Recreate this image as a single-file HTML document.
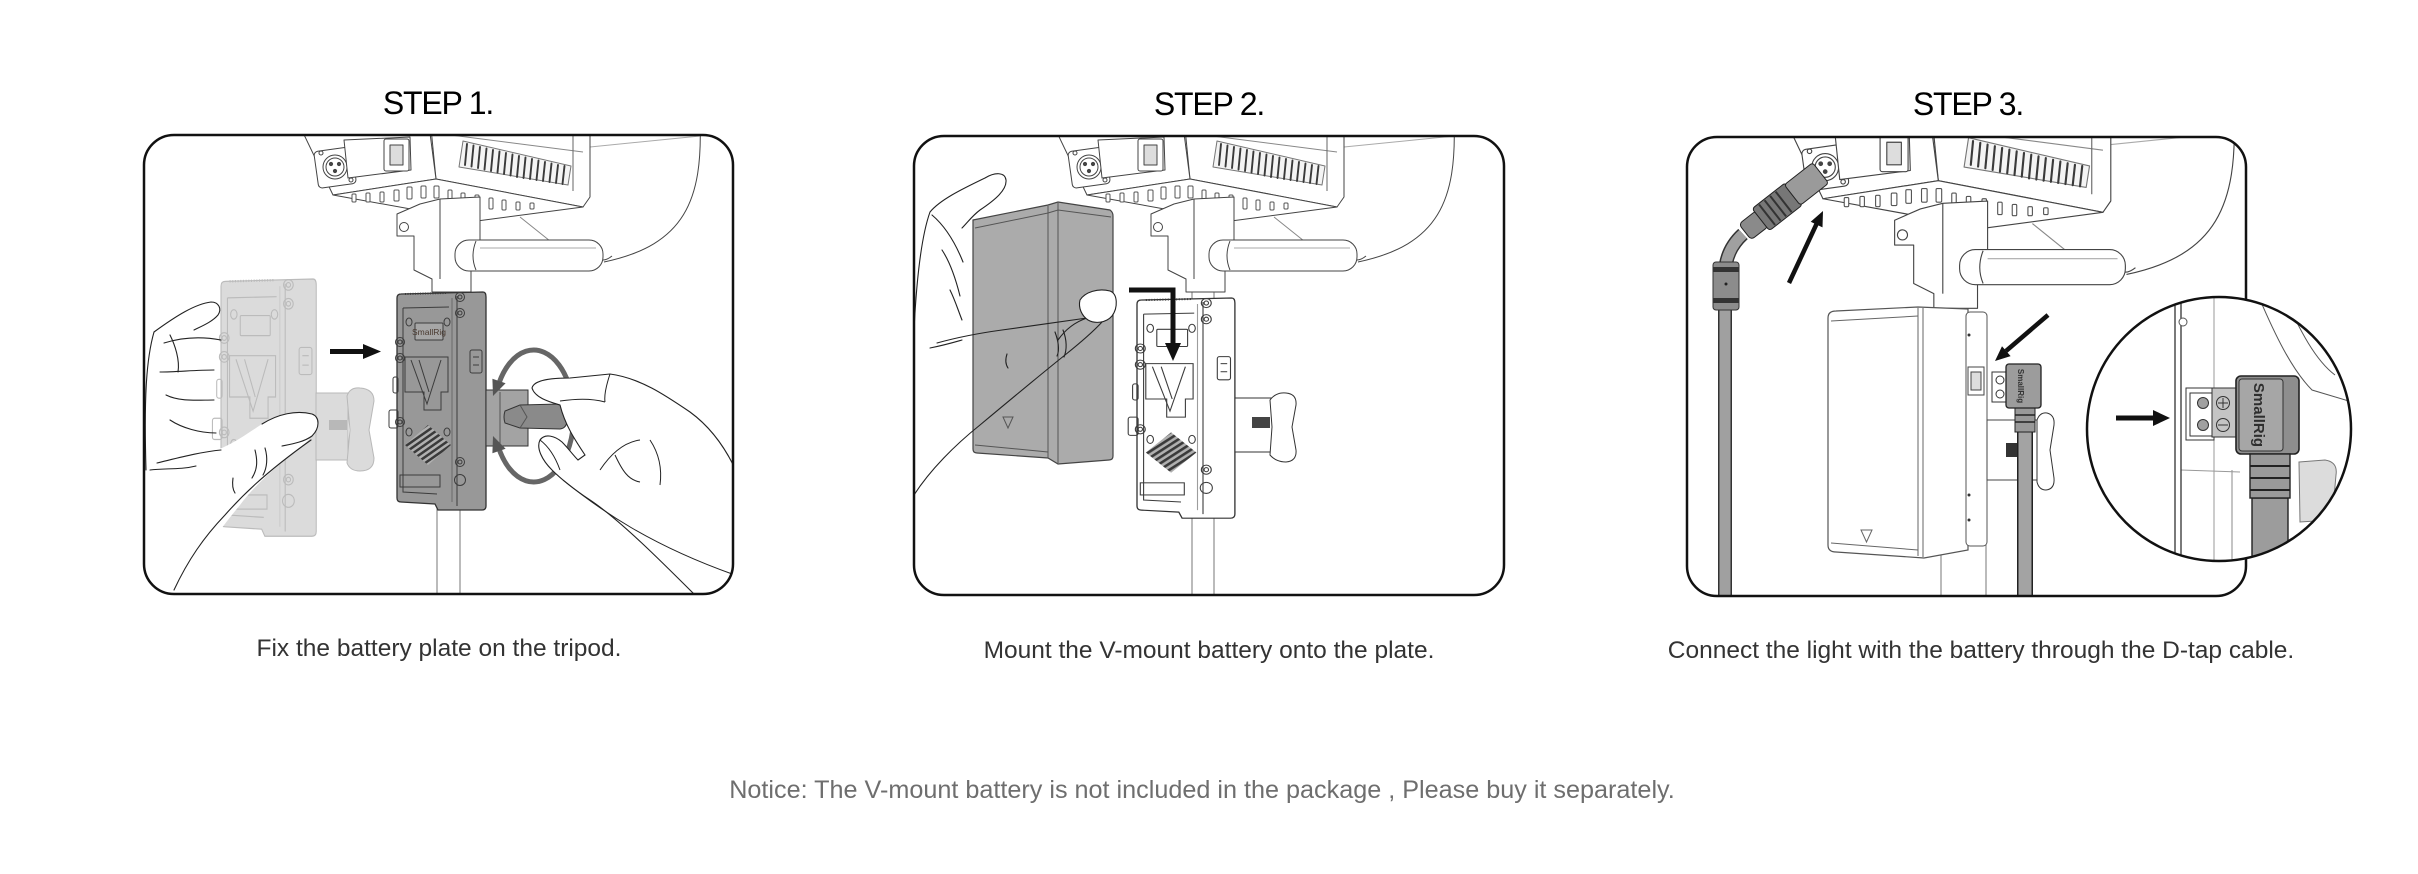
<!DOCTYPE html>
<html><head><meta charset="utf-8"><title>Steps</title>
<style>
html,body{margin:0;padding:0;background:#fff;}
body{width:2418px;height:874px;overflow:hidden;}
svg{display:block;}
text{font-family:"Liberation Sans",Arial,sans-serif;}
</style></head><body>
<svg width="2418" height="874" viewBox="0 0 2418 874" xmlns="http://www.w3.org/2000/svg">
<defs>
<clipPath id="c1"><rect x="144" y="135" width="589" height="459" rx="30"/></clipPath>
<clipPath id="c2"><rect x="914" y="136" width="590" height="459" rx="30"/></clipPath>
<clipPath id="c3"><rect x="1687" y="137" width="559" height="459" rx="30"/></clipPath>
<clipPath id="cc"><circle cx="2219" cy="429" r="131"/></clipPath>
<pattern id="hatch" width="5" height="5" patternUnits="userSpaceOnUse" patternTransform="rotate(-35)"><rect width="5" height="5" fill="#b0b0b0"/><rect width="5" height="2.5" fill="#3a3a3a"/></pattern>

<g id="rig" stroke="#444" stroke-width="1" fill="#fff" stroke-linejoin="round">
  <path d="M700,120 C703,200 685,245 604,262" fill="none"/>
  <path d="M590,147 L700,136" fill="none" stroke="#aaa"/>
  <path d="M520,217 L550,241" fill="none" stroke="#888"/>
  <polygon points="430,118 590,118 590,197 583,207 436,179"/>
  <path d="M443,134 L583,152" fill="none" stroke="#888"/>
  <line x1="573" y1="134" x2="573" y2="191" stroke="#666"/>
  <polygon points="463,141 571,166 568,185 459,167" fill="#f4f4f4" stroke="#777"/>
  <g stroke="#3a3a3a" stroke-width="1.9" stroke-linecap="round">
    <line x1="467" y1="144" x2="465" y2="165"/><line x1="473.5" y1="145.5" x2="471.5" y2="166.5"/>
    <line x1="480" y1="147" x2="478" y2="168"/><line x1="486.5" y1="148.5" x2="484.5" y2="169.5"/>
    <line x1="493" y1="150" x2="491" y2="171"/><line x1="499.5" y1="151.5" x2="497.5" y2="172.5"/>
    <line x1="506" y1="153" x2="504" y2="174"/><line x1="512.5" y1="154.5" x2="510.5" y2="175.5"/>
    <line x1="519" y1="156" x2="517" y2="177"/><line x1="525.5" y1="157.5" x2="523.5" y2="178"/>
    <line x1="532" y1="159" x2="530" y2="179"/><line x1="538.5" y1="160.5" x2="536.5" y2="180"/>
    <line x1="545" y1="162" x2="543" y2="181"/><line x1="551.5" y1="163.5" x2="549.5" y2="182"/>
    <line x1="558" y1="165" x2="556" y2="183"/><line x1="564.5" y1="166" x2="562.5" y2="184"/>
  </g>
  <polygon points="296,118 428,118 436,179 333,195"/>
  <rect x="316" y="149" width="38" height="37" rx="4" transform="rotate(-8 335 167)"/>
  <circle cx="335" cy="167" r="12"/><circle cx="335" cy="167" r="9"/>
  <circle cx="331" cy="164" r="1.6" fill="#444"/><circle cx="339" cy="164" r="1.6" fill="#444"/><circle cx="335" cy="171" r="1.6" fill="#444"/>
  <circle cx="321" cy="153" r="2"/><circle cx="351" cy="180" r="2"/>
  <polygon points="344,140 410,137 411,170 348,178"/>
  <rect x="384" y="139" width="25" height="32" rx="2"/>
  <rect x="390" y="145" width="13" height="20" fill="#ddd"/>
  <polygon points="333,195 436,179 583,207 477,221"/>
  <g fill="#fff" stroke="#555">
    <rect x="352" y="194" width="4" height="8" rx="1"/><rect x="366" y="193" width="4" height="9" rx="1"/>
    <rect x="380" y="192" width="4" height="10" rx="1"/><rect x="394" y="190" width="5" height="11" rx="1"/>
    <rect x="407" y="187" width="5" height="12" rx="1"/><rect x="421" y="186" width="5" height="12" rx="1"/>
    <rect x="434" y="186" width="5" height="12" rx="1"/><rect x="448" y="190" width="4" height="9" rx="1"/>
    <rect x="461" y="193" width="4" height="8" rx="1"/><rect x="475" y="195" width="4" height="9" rx="1"/>
    <rect x="489" y="198" width="4" height="11" rx="1"/><rect x="502" y="200" width="4" height="10" rx="1"/>
    <rect x="516" y="202" width="4" height="8" rx="1"/><rect x="530" y="203" width="4" height="6" rx="1"/>
  </g>
  <path d="M397,222 L397,236 L414,236 L414,270 L432,279 L432,292 L471,292 L471,250 L480,246 L480,197 L440,199 L420,204 L397,214 Z"/>
  <circle cx="404" cy="227" r="4.5"/>
  <line x1="440" y1="199" x2="440" y2="279"/>
  <rect x="455" y="240" width="148" height="31" rx="14"/>
  <path d="M476,241 Q470,256 476,270" fill="none"/>
  <line x1="480" y1="248" x2="596" y2="248" stroke="#aaa"/>
  <path d="M603,260 Q607,260 612,256" fill="none"/>
</g>

<g id="pd" fill="none" stroke="#3c3c3c" stroke-width="1">
  <line x1="60" y1="4" x2="60" y2="214"/>
  <line x1="55" y1="6" x2="55" y2="210" stroke-opacity="0.5"/>
  <path d="M6,16 L52,15 M6,16 L6,200 L40,202"/>
  <rect x="18" y="31" width="28" height="17" rx="1"/>
  <path d="M8,65 L51,65 L51,100 L44,100 L44,118 L27,118 L27,100 L8,100 Z"/>
  <path d="M14,68 L30,112 L44,68 M22,68 L32,100"/>
  <polygon points="31,133 54,153 31,173 8,153" fill="url(#hatch)" stroke="none"/>
  <rect x="3" y="183" width="40" height="12"/>
  <rect x="73" y="58" width="12" height="23" rx="2"/>
  <line x1="76" y1="65" x2="82" y2="65"/><line x1="76" y1="73" x2="82" y2="73"/>
  <ellipse cx="12" cy="30" rx="3" ry="4"/><ellipse cx="50" cy="30" rx="3" ry="4"/>
  <ellipse cx="12" cy="140" rx="3" ry="4"/><ellipse cx="50" cy="140" rx="3" ry="4"/>
  <path d="M8,2 L50,1" stroke-dasharray="1 1.5" stroke-width="2"/>
  <circle cx="63" cy="5" r="4.5"/><circle cx="63" cy="5" r="2"/>
  <circle cx="63" cy="21" r="4.5"/><circle cx="63" cy="21" r="2"/>
  <circle cx="3" cy="50" r="4.5"/><circle cx="3" cy="50" r="2"/>
  <circle cx="3" cy="66" r="4.5"/><circle cx="3" cy="66" r="2"/>
  <circle cx="3" cy="130" r="4.5"/><circle cx="3" cy="130" r="2"/>
  <circle cx="63" cy="170" r="4.5"/><circle cx="63" cy="170" r="2"/>
  <circle cx="63" cy="188" r="5.5"/>
  <rect x="-4" y="85" width="5" height="16" rx="2"/>
  <rect x="-8" y="118" width="9" height="18" rx="2"/>
</g>
</defs>

<!-- ================= PANEL 1 ================= -->
<g clip-path="url(#c1)">
  <line x1="437" y1="280" x2="437" y2="600" stroke="#777" stroke-width="1"/>
  <line x1="460" y1="280" x2="460" y2="600" stroke="#777" stroke-width="1"/>
  <use href="#rig"/>
  <!-- ghost plate -->
  <g opacity="0.34">
    <g transform="translate(221,279) scale(1.07,1.18)">
      <path d="M4,2 L86,0 Q89,0 89,5 L89,214 Q89,218 85,218 L41,218 L38,212 L4,210 Q0,210 0,206 L0,6 Q0,2 4,2 Z" fill="#999" stroke="#3c3c3c"/>
      <use href="#pd"/>
    </g>
    <rect x="316" y="393" width="32" height="67" fill="#999" stroke="#333"/>
    <rect x="329" y="420" width="18" height="10" fill="#333"/>
    <path d="M347,396 Q350,387 360,388 Q374,389 374,401 L369,430 L374,458 Q374,471 360,471 Q350,471 347,463 L350,430 Z" fill="#999" stroke="#333"/>
  </g>
  <!-- left hand -->
  <path d="M146,470 L160,463 C185,457 205,452 222,448 C240,440 255,428 267,421 C282,414 298,410 312,414 C320,417 320,428 312,436 C305,444 300,448 294,452 C275,468 255,485 240,505 C215,535 195,565 176,600 L146,600 Z" fill="#fff"/>
  <g fill="none" stroke="#222" stroke-width="1.1" stroke-linecap="round">
    <path d="M154,332 C176,316 195,304 211,302 C219,302 222,309 218,315 C212,322 202,326 194,330"/>
    <path d="M154,332 C146,360 144,400 146,470"/>
    <path d="M164,343 C180,338 200,336 221,340"/>
    <path d="M160,372 C176,372 196,370 214,370"/>
    <path d="M166,395 C180,402 198,400 214,400"/>
    <path d="M170,420 C182,428 200,433 216,433"/>
    <path d="M170,335 C175,345 180,360 178,372"/>
    <path d="M157,463 C178,458 200,452 221,450"/>
    <path d="M262,424 C278,414 296,410 312,414 C320,417 320,428 312,436 C304,442 292,444 282,446"/>
    <path d="M174,590 C188,560 204,537 225,515 C240,498 262,475 311,440"/>
    <path d="M150,470 C165,468 180,470 196,466"/>
    <path d="M255,450 C258,462 257,470 252,478"/>
    <path d="M265,448 C268,458 267,468 263,475"/>
    <path d="M233,478 C232,485 233,490 235,493"/>
  </g>
  <!-- dark plate -->
  <g transform="translate(397,292)">
    <path d="M4,2 L86,0 Q89,0 89,5 L89,214 Q89,218 85,218 L41,218 L38,212 L4,210 Q0,210 0,206 L0,6 Q0,2 4,2 Z" fill="#989898" stroke="#333" stroke-width="1.3"/>
    <rect x="18" y="31" width="28" height="17" fill="#a6a6a6"/>
    <use href="#pd"/>
    <text x="32" y="43" font-size="8.5" text-anchor="middle" fill="#4a3a30">SmallRig</text>
  </g>
  <!-- clamp + knob -->
  <rect x="486" y="390" width="42" height="56" fill="#a3a3a3" stroke="#333"/>
  <line x1="500" y1="392" x2="500" y2="444" stroke="#555"/>
  <path d="M505,411 Q503,417 505,423 L520,428 L560,429 Q568,428 567,417 Q568,405 560,404 L520,405 Z" fill="#8a8a8a" stroke="#333"/>
  <path d="M520,405 L527,417 L520,428" fill="none" stroke="#555"/>
  <!-- rotation ring -->
  <path d="M498.4,385 A40,66 0 1 1 498.4,447" fill="none" stroke="#666" stroke-width="5"/>
  <polygon points="505.6,383.3 492.4,378.7 493,396" fill="#555"/>
  <polygon points="505.6,448.7 492.4,453.3 493,436" fill="#555"/>
  <!-- right hand -->
  <path d="M532,388 C534,380 550,378 570,378 L610,374 C640,378 665,395 690,412 C712,428 727,450 738,475 L738,600 L700,600 C660,560 620,520 590,500 C575,490 562,480 552,470 C542,460 536,448 540,440 C545,433 555,436 562,442 C568,448 573,455 578,460 L585,455 C575,440 565,425 560,405 C550,402 535,398 532,388 Z" fill="#fff" stroke="#222" stroke-width="1.1"/>
  <g fill="none" stroke="#222" stroke-width="1">
    <path d="M560,401 C575,399 590,398 605,402"/>
    <path d="M610,374 C606,386 604,395 605,402"/>
    <path d="M600,470 C612,452 625,442 640,440"/>
    <path d="M615,455 C622,470 628,480 640,482"/>
    <path d="M650,440 C660,455 662,470 660,485"/>
    <path d="M563,480 C600,510 650,545 735,575"/>
    <path d="M540,440 C548,446 555,456 560,470"/>
  </g>
  <!-- arrow -->
  <rect x="330" y="349" width="36" height="5" fill="#111"/>
  <polygon points="363,344 381,351.5 363,359" fill="#111"/>
</g>
<rect x="144" y="135" width="589" height="459" rx="30" fill="none" stroke="#111" stroke-width="2.5"/>

<!-- ================= PANEL 2 ================= -->
<g clip-path="url(#c2)">
  <line x1="1192" y1="280" x2="1192" y2="600" stroke="#777"/>
  <line x1="1214" y1="280" x2="1214" y2="600" stroke="#777"/>
  <use href="#rig" transform="translate(754,0)"/>
  <!-- battery -->
  <path d="M973,220 L1048,205 L1058,202 L1110,210 Q1113,212 1113,216 L1113,456 Q1113,460 1109,460 L1058,464 L1048,458 L977,453 Q973,453 973,449 Z" fill="#ababab" stroke="#444" stroke-width="1.2"/>
  <g fill="none" stroke="#555" stroke-width="1">
    <path d="M1048,206 L1048,458"/><path d="M1058,203 L1058,463"/>
    <path d="M975,228 L1048,213 L1058,210 L1111,217"/>
    <path d="M975,445 L1048,452"/>
    <path d="M1003,417 L1013,417 L1008,428 Z"/>
  </g>
  <!-- hand -->
  <g fill="none" stroke="#222" stroke-width="1.1" stroke-linecap="round">
    <path d="M914,330 C916,290 920,240 930,212 C940,200 960,190 985,178 C995,172 1005,172 1006,180 C1007,190 995,200 980,210 C972,216 968,222 962,228"/>
    <path d="M932,215 C945,226 955,242 963,262"/>
    <path d="M942,250 C950,262 956,280 960,296"/>
    <path d="M950,290 C955,300 958,310 962,320"/>
    <path d="M937,343 C955,338 980,333 1002,330 C1030,326 1060,322 1087,318"/>
    <path d="M930,348 C945,345 955,342 962,340"/>
    <path d="M914,495 C930,470 955,445 980,425 C1010,400 1040,375 1065,355 C1080,343 1092,333 1102,322"/>
    <path d="M1087,318 C1075,322 1065,330 1058,340"/>
    <path d="M1055,332 C1058,340 1060,350 1057,356"/>
    <path d="M1063,330 C1067,340 1067,350 1064,357"/>
    <path d="M1007,354 C1005,360 1006,365 1008,368"/>
  </g>
  <path d="M1080,300 C1085,292 1098,288 1110,291 C1118,294 1118,308 1112,316 C1106,323 1095,324 1088,320 C1082,316 1078,308 1080,300 Z" fill="#fff" stroke="#222" stroke-width="1.1"/>
  <!-- plate -->
  <g transform="translate(1137,298) scale(1.1,1.01)">
    <path d="M4,2 L86,0 Q89,0 89,5 L89,214 Q89,218 85,218 L41,218 L38,212 L4,210 Q0,210 0,206 L0,6 Q0,2 4,2 Z" fill="#fff" stroke="#333" stroke-width="1.2"/>
    <use href="#pd"/>
  </g>
  <!-- clamp + knob -->
  <rect x="1235" y="398" width="37" height="54" fill="#fff" stroke="#333"/>
  <rect x="1252" y="417" width="18" height="11" fill="#444"/>
  <path d="M1270,400 Q1276,392 1286,393 Q1297,394 1296,405 L1292,427 L1296,450 Q1297,461 1286,462 Q1276,462 1270,455 L1272,427 Z" fill="#fff" stroke="#333"/>
  <!-- L arrow -->
  <path d="M1129,290 L1173,290 L1173,346" fill="none" stroke="#111" stroke-width="5"/>
  <polygon points="1165,343 1181,343 1173,361" fill="#111"/>
</g>
<rect x="914" y="136" width="590" height="459" rx="30" fill="none" stroke="#111" stroke-width="2.5"/>

<!-- ================= PANEL 3 ================= -->
<g clip-path="url(#c3)">
  <line x1="1941" y1="540" x2="1941" y2="600" stroke="#777"/>
  <line x1="1986" y1="540" x2="1986" y2="600" stroke="#777"/>
  <use href="#rig" transform="matrix(1.12 0 0 1.13 1450 -21.6)"/>
  <!-- XLR cable -->
  <path d="M1743,234 C1731,245 1725,258 1725,275 L1725,600" fill="none" stroke="#333" stroke-width="14"/>
  <path d="M1743,234 C1731,245 1725,258 1725,275 L1725,600" fill="none" stroke="#a0a0a0" stroke-width="11"/>
  <rect x="1713" y="262" width="26" height="48" rx="3" fill="#8c8c8c" stroke="#333"/>
  <rect x="1713" y="267" width="26" height="5" fill="#333"/>
  <rect x="1713" y="298" width="26" height="5" fill="#333"/>
  <circle cx="1726" cy="284" r="1.5" fill="#222"/>
  <g transform="translate(1745,232) rotate(-38)">
    <rect x="0" y="-10" width="22" height="20" rx="4" fill="#8a8a8a" stroke="#222"/>
    <rect x="20" y="-14" width="42" height="28" rx="3" fill="#777" stroke="#222"/>
    <g stroke="#333" stroke-width="2"><line x1="28" y1="-13" x2="28" y2="13"/><line x1="35" y1="-13" x2="35" y2="13"/><line x1="42" y1="-13" x2="42" y2="13"/><line x1="49" y1="-13" x2="49" y2="13"/></g>
    <rect x="60" y="-13" width="36" height="26" rx="3" fill="#9a9a9a" stroke="#222"/>
  </g>
  <!-- battery -->
  <path d="M1828,318 Q1828,311 1836,311 L1918,307 L1968,309 L1968,550 L1924,558 L1836,552 Q1828,552 1828,545 Z" fill="#fff" stroke="#555" stroke-width="1.2"/>
  <g fill="none" stroke="#666" stroke-width="1">
    <path d="M1918,308 L1918,556"/><path d="M1923,308 L1923,557"/>
    <path d="M1831,321 L1918,316"/><path d="M1831,543 L1918,550"/>
    <path d="M1861,530 L1872,530 L1866.5,542 Z"/>
  </g>
  <rect x="1966" y="312" width="21" height="234" rx="4" fill="#fff" stroke="#555"/>
  <rect x="1968" y="367" width="16" height="28" fill="#fff" stroke="#444"/>
  <rect x="1971" y="372" width="10" height="18" fill="#ddd" stroke="#444"/>
  <circle cx="1969" cy="335" r="1.5" fill="#333"/><circle cx="1969" cy="495" r="1.5" fill="#333"/><circle cx="1969" cy="520" r="1.5" fill="#333"/>
  <!-- clamp + knob -->
  <rect x="1987" y="420" width="50" height="60" fill="#fff" stroke="#444"/>
  <rect x="2006" y="443" width="16" height="14" fill="#333"/>
  <path d="M2037,420 Q2040,412 2047,413 Q2055,415 2054,425 L2050,450 L2054,478 Q2055,489 2046,490 Q2039,490 2037,482 Z" fill="#fff" stroke="#333"/>
  <!-- D-tap cable -->
  <path d="M2025,425 L2025,600" stroke="#222" stroke-width="16" fill="none"/>
  <path d="M2025,425 L2025,600" stroke="#a3a3a3" stroke-width="13" fill="none"/>
  <rect x="2015" y="408" width="20" height="24" fill="#999" stroke="#222"/>
  <g stroke="#222" stroke-width="1.5"><line x1="2015" y1="415" x2="2035" y2="415"/><line x1="2015" y1="422" x2="2035" y2="422"/></g>
  <rect x="1992" y="372" width="16" height="30" fill="#fff" stroke="#333"/>
  <circle cx="2000" cy="380" r="4" fill="#fff" stroke="#333"/><circle cx="2000" cy="394" r="4" fill="#fff" stroke="#333"/>
  <rect x="2006" y="364" width="35" height="44" rx="3" fill="#9c9c9c" stroke="#222" stroke-width="1.3"/>
  <text transform="translate(2018,386) rotate(90)" font-size="8" font-weight="bold" text-anchor="middle" fill="#333">SmallRig</text>
  <!-- arrows -->
  <line x1="1789" y1="283" x2="1817" y2="223" stroke="#111" stroke-width="4.5"/>
  <polygon points="1823,211 1822.5,227.4 1810.7,221.8" fill="#111"/>
  <line x1="2048" y1="315" x2="2006" y2="351" stroke="#111" stroke-width="4.5"/>
  <polygon points="1995,361 2010.6,356.1 2002,346.3" fill="#111"/>
</g>
<rect x="1687" y="137" width="559" height="459" rx="30" fill="none" stroke="#111" stroke-width="2.5"/>

<!-- inset circle -->
<circle cx="2219" cy="429" r="132" fill="#fff"/>
<g clip-path="url(#cc)">
  <g fill="none" stroke="#555" stroke-width="1">
    <path d="M2258,295 C2275,335 2292,370 2312,390 L2352,402"/>
    <path d="M2285,298 C2300,330 2315,360 2335,375"/>
    <line x1="2214" y1="290" x2="2214" y2="570" stroke="#999"/>
    <line x1="2232" y1="470" x2="2232" y2="570" stroke="#888"/>
    <line x1="2181" y1="470" x2="2240" y2="472" stroke="#999"/>
  </g>
  <line x1="2175" y1="290" x2="2175" y2="570" stroke="#333" stroke-width="1.3"/>
  <line x1="2181" y1="290" x2="2181" y2="570" stroke="#333" stroke-width="1.3"/>
  <circle cx="2183" cy="322" r="4" fill="#fff" stroke="#555"/>
  <path d="M2299,462 L2325,460 Q2338,462 2336,475 L2332,520 L2300,522 Z" fill="#dcdcdc" stroke="#777"/>
  <!-- socket -->
  <rect x="2186" y="388" width="28" height="52" fill="#fff" stroke="#333"/>
  <rect x="2190" y="393" width="22" height="43" fill="#fff" stroke="#333"/>
  <circle cx="2203" cy="403" r="5.5" fill="#a0a0a0" stroke="#333"/>
  <circle cx="2203" cy="425" r="5.5" fill="#a0a0a0" stroke="#333"/>
  <!-- plug -->
  <rect x="2212" y="388" width="26" height="49" fill="#c4c4c4" stroke="#333"/>
  <circle cx="2223" cy="403" r="6.5" fill="#c4c4c4" stroke="#333"/>
  <path d="M2218,403 L2228,403 M2223,398 L2223,408" stroke="#333"/>
  <circle cx="2223" cy="425" r="6.5" fill="#c4c4c4" stroke="#333"/>
  <path d="M2218,425 L2228,425" stroke="#333"/>
  <!-- head -->
  <rect x="2236" y="376" width="63" height="78" rx="5" fill="#8e8e8e" stroke="#222" stroke-width="1.6"/>
  <rect x="2239" y="379" width="44" height="72" rx="3" fill="#a6a6a6" stroke="#333"/>
  <text transform="translate(2254,415) rotate(90)" font-size="15" font-weight="bold" text-anchor="middle" fill="#2e2e2e">SmallRig</text>
  <!-- strain relief + cable -->
  <rect x="2252" y="498" width="36" height="70" fill="#9c9c9c" stroke="#222" stroke-width="1.4"/>
  <rect x="2250" y="454" width="40" height="44" fill="#9a9a9a" stroke="#222" stroke-width="1.4"/>
  <g stroke="#222" stroke-width="2"><line x1="2250" y1="466" x2="2290" y2="466"/><line x1="2250" y1="478" x2="2290" y2="478"/><line x1="2250" y1="490" x2="2290" y2="490"/></g>
  <!-- arrow -->
  <rect x="2116" y="415.5" width="40" height="5" fill="#111"/>
  <polygon points="2153,410 2170,418 2153,426" fill="#111"/>
</g>
<circle cx="2219" cy="429" r="132" fill="none" stroke="#111" stroke-width="2.5"/>

<!-- ================= TEXT ================= -->
<text x="438" y="114" font-size="32" letter-spacing="-1.2" text-anchor="middle" fill="#000">STEP 1.</text>
<text x="1209" y="115" font-size="32" letter-spacing="-1.2" text-anchor="middle" fill="#000">STEP 2.</text>
<text x="1968" y="115" font-size="32" letter-spacing="-1.2" text-anchor="middle" fill="#000">STEP 3.</text>

<text x="439" y="656" font-size="24.5" text-anchor="middle" fill="#333">Fix the battery plate on the tripod.</text>
<text x="1209" y="658" font-size="24.5" text-anchor="middle" fill="#333">Mount the V-mount battery onto the plate.</text>
<text x="1981" y="658" font-size="24.5" text-anchor="middle" fill="#333">Connect the light with the battery through the D-tap cable.</text>

<text x="1202" y="798" font-size="25.2" text-anchor="middle" fill="#6e6e6e">Notice: The V-mount battery is not included in the package , Please buy it separately.</text>
</svg>
</body></html>
